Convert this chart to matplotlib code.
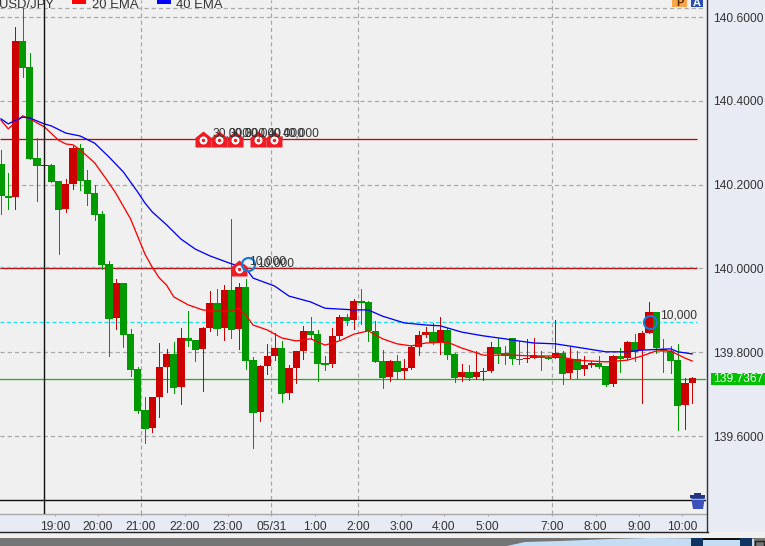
#!/usr/bin/env python3

import matplotlib
matplotlib.use("Agg")
import matplotlib.pyplot as plt
from matplotlib.patches import Rectangle, Polygon

plt.rcParams["font.family"] = ["Liberation Sans", "DejaVu Sans"]

# candles, oldest first
opens = [140.249, 140.174, 140.170, 140.543, 140.481, 140.264, 140.244, 140.247, 140.209, 140.142,
         140.201, 140.287, 140.211, 140.180, 140.130, 140.011, 139.882, 139.965, 139.843, 139.760,
         139.662, 139.619, 139.693, 139.765, 139.796, 139.717, 139.834, 139.829, 139.808, 139.858,
         139.917, 139.858, 139.948, 139.855, 139.956, 139.781, 139.657, 139.767, 139.791, 139.810,
         139.703, 139.762, 139.803, 139.851, 139.843, 139.774, 139.772, 139.839, 139.884, 139.877,
         139.922, 139.920, 139.851, 139.779, 139.741, 139.779, 139.755, 139.762, 139.812, 139.841,
         139.848, 139.822, 139.853, 139.796, 139.741, 139.753, 139.741, 139.753, 139.755, 139.812,
         139.798, 139.834, 139.784, 139.784, 139.786, 139.791, 139.789, 139.786, 139.798, 139.750,
         139.784, 139.760, 139.770, 139.774, 139.767, 139.724, 139.791, 139.786, 139.824, 139.805,
         139.846, 139.896, 139.808, 139.803, 139.781, 139.674, 139.727]
highs = [140.283, 140.228, 140.576, 140.621, 140.514, 140.311, 140.292, 140.249, 140.209, 140.213,
         140.292, 140.297, 140.235, 140.199, 140.137, 140.018, 139.975, 139.965, 139.855, 139.765,
         139.693, 139.693, 139.822, 139.808, 139.824, 139.858, 139.898, 139.829, 139.860, 139.946,
         139.951, 139.960, 140.118, 139.965, 139.975, 139.789, 139.770, 139.820, 139.846, 139.827,
         139.770, 139.803, 139.863, 139.884, 139.853, 139.791, 139.858, 139.889, 139.891, 139.927,
         139.951, 139.922, 139.875, 139.805, 139.781, 139.793, 139.784, 139.817, 139.851, 139.860,
         139.870, 139.884, 139.858, 139.798, 139.772, 139.770, 139.803, 139.762, 139.824, 139.834,
         139.815, 139.834, 139.827, 139.832, 139.834, 139.803, 139.791, 139.877, 139.803, 139.812,
         139.803, 139.791, 139.779, 139.791, 139.767, 139.793, 139.810, 139.827, 139.843, 139.851,
         139.920, 139.896, 139.832, 139.815, 139.820, 139.738, 139.741]
lows = [140.130, 140.142, 140.142, 140.457, 140.261, 140.161, 140.194, 140.206, 140.034, 140.135,
        140.190, 140.187, 140.151, 140.116, 139.999, 139.791, 139.855, 139.812, 139.743, 139.655,
        139.583, 139.610, 139.645, 139.705, 139.703, 139.676, 139.815, 139.779, 139.707, 139.851,
        139.841, 139.829, 139.834, 139.808, 139.760, 139.571, 139.636, 139.748, 139.781, 139.681,
        139.688, 139.727, 139.784, 139.832, 139.731, 139.758, 139.765, 139.832, 139.865, 139.855,
        139.867, 139.827, 139.777, 139.715, 139.731, 139.736, 139.736, 139.760, 139.793, 139.836,
        139.820, 139.796, 139.784, 139.729, 139.731, 139.734, 139.736, 139.734, 139.753, 139.774,
        139.772, 139.772, 139.772, 139.777, 139.786, 139.758, 139.784, 139.786, 139.724, 139.738,
        139.738, 139.746, 139.765, 139.762, 139.719, 139.719, 139.753, 139.784, 139.779, 139.679,
        139.846, 139.798, 139.753, 139.750, 139.614, 139.617, 139.679]
closes = [140.173, 140.168, 140.543, 140.478, 140.261, 140.244, 140.247, 140.206, 140.139, 140.201,
          140.287, 140.209, 140.178, 140.127, 140.008, 139.879, 139.965, 139.841, 139.758, 139.660,
          139.617, 139.693, 139.765, 139.796, 139.715, 139.834, 139.827, 139.805, 139.858, 139.917,
          139.855, 139.948, 139.853, 139.956, 139.779, 139.655, 139.767, 139.791, 139.810, 139.700,
          139.762, 139.803, 139.851, 139.841, 139.772, 139.770, 139.839, 139.884, 139.875, 139.922,
          139.917, 139.851, 139.777, 139.738, 139.779, 139.753, 139.762, 139.812, 139.841, 139.848,
          139.822, 139.853, 139.793, 139.738, 139.753, 139.738, 139.753, 139.755, 139.812, 139.796,
          139.791, 139.784, 139.781, 139.786, 139.793, 139.786, 139.784, 139.798, 139.748, 139.784,
          139.758, 139.770, 139.774, 139.765, 139.722, 139.791, 139.784, 139.824, 139.801, 139.846,
          139.896, 139.810, 139.803, 139.779, 139.672, 139.727, 139.738]

ema20_idx = [0, 1, 3, 4, 6, 8, 9, 10, 11, 13, 15, 16, 18, 20, 21, 22, 23, 24, 26, 28, 30, 32, 33, 34, 35,
             37, 39, 41, 43, 45, 47, 49, 51, 53, 55, 57, 59, 62, 64, 67, 71, 74, 77, 80, 84, 87, 89,
             91, 93, 95, 96]
ema20 = [140.354, 140.333, 140.364, 140.357, 140.338, 140.306, 140.297, 140.295, 140.283, 140.252,
         140.204, 140.178, 140.118, 140.034, 140.003, 139.977, 139.960, 139.932, 139.913, 139.901,
         139.898, 139.898, 139.905, 139.889, 139.865, 139.853, 139.834, 139.827, 139.832, 139.817,
         139.827, 139.843, 139.851, 139.832, 139.820, 139.815, 139.822, 139.824, 139.810, 139.793,
         139.793, 139.791, 139.791, 139.781, 139.777, 139.781, 139.791, 139.803, 139.803, 139.786,
         139.779]
ema40_idx = [0, 1, 3, 4, 6, 7, 9, 11, 13, 15, 17, 19, 20, 21, 23, 25, 27, 29, 32, 34, 35, 38, 40, 43,
             45, 49, 51, 53, 56, 59, 61, 64, 67, 70, 71, 74, 77, 80, 84, 87, 89, 93, 94, 96]
ema40 = [140.357, 140.345, 140.361, 140.359, 140.345, 140.340, 140.323, 140.316, 140.299, 140.266,
         140.230, 140.182, 140.156, 140.135, 140.104, 140.070, 140.046, 140.030, 140.011, 140.001,
         139.977, 139.958, 139.934, 139.920, 139.905, 139.901, 139.901, 139.886, 139.870, 139.865,
         139.863, 139.848, 139.839, 139.832, 139.829, 139.822, 139.820, 139.812, 139.801, 139.801,
         139.805, 139.808, 139.801, 139.796]

hour_idx = [7.5, 13.47, 19.44, 25.56, 31.53, 37.57, 43.6, 49.58, 55.6, 61.5, 67.6, 76.5, 82.6, 88.6, 94.6]
hour_labels = ["19:00", "20:00", "21:00", "22:00", "23:00", "05/31", "1:00", "2:00", "3:00", "4:00",
               "5:00", "7:00", "8:00", "9:00", "10:00"]
grid_idx = [19.44, 37.57, 49.58, 76.5]
price_ticks = [140.6, 140.4, 140.2, 140.0, 139.8, 139.6]
extra_grid = 140.621
last_price = 139.7367
cyan_price = 139.872
order_prices = [140.31, 140.0]
cross_idx = 6.04
cross_price = 139.448

house_idx = [28.06, 30.28, 32.5, 35.7, 37.9, 33.06]
house_price = [140.31, 140.31, 140.31, 140.31, 140.31, 140.002]
ring_idx = [34.3, 90.1]
ring_price = [140.01, 139.872]

UP = "#cc0000"
DOWN = "#009900"
PANEL = "#e8ebf4"
TEXT = "#333333"
PX = 72 / 100

fig = plt.figure(figsize=(7.65, 5.46), dpi=100, facecolor=PANEL)
ax = fig.add_axes([0, 32 / 546, 706 / 765, 514 / 546], facecolor="#f0f0f0")
ax.set_xlim(-0.139, 97.92)
ax.set_ylim(139.4139, 140.6406)

# grid
for p in price_ticks + [extra_grid]:
    ax.axhline(p, color="#a8a8a8", lw=1.2 * PX, ls=(0, (3.5, 2.5)), zorder=1)
for g in grid_idx:
    ax.axvline(g, color="#a8a8a8", lw=1.2 * PX, ls=(0, (3.5, 2.5)), zorder=1)

# candles
idx = list(range(len(opens)))
colors = [UP if c > o else DOWN for o, c in zip(opens, closes)]
ax.vlines(idx, lows, highs, colors=colors, lw=1.0 * PX, zorder=3, antialiased=False)
ax.bar(idx, [c - o for o, c in zip(opens, closes)], bottom=opens, width=0.98, color=colors,
       linewidth=0, zorder=3, antialiased=False)

# emas
ax.plot(ema20_idx, ema20, color="#ff0000", lw=1.3 * PX, zorder=4)
ax.plot(ema40_idx, ema40, color="#0000ff", lw=1.3 * PX, zorder=4)

# order and price lines
ax.hlines(order_prices, -0.139, 96.67, colors="#cc0000", lw=1.3 * PX, zorder=2)
ax.hlines([140.003, cyan_price], -0.139, 96.67, colors="#22e0f0", lw=1.3 * PX,
          linestyles=[(0, (3, 2))], zorder=2)
ax.axhline(last_price, color="#22b014", lw=1.3 * PX, zorder=2)
ax.axhline(cross_price, color="#111111", lw=1.4 * PX, zorder=2)
ax.axvline(cross_idx, color="#111111", lw=1.4 * PX, zorder=5)

# order markers
house = [(-1, -1), (1, -1), (1, 0.2), (0, 1), (-1, 0.2)]
ax.plot(house_idx, house_price, ls="", marker=house, ms=16 * PX, mfc="#ee1c25", mec="none", zorder=6)
ax.plot(house_idx, [p - 0.004 for p in house_price], ls="", marker="o", ms=8 * PX, mfc="white",
        mec="none", zorder=7)
ax.plot(house_idx, [p - 0.004 for p in house_price], ls="", marker="o", ms=3.5 * PX, mfc="#ee1c25",
        mec="none", zorder=8)
ax.plot(ring_idx, ring_price, ls="", marker="o", ms=13 * PX, mfc="none", mec="#1f78d2",
        mew=2.2 * PX, zorder=9)

# axes
for side in ["top", "left", "right"]:
    ax.spines[side].set_visible(False)
ax.spines["bottom"].set_color("#a8a8a8")
ax.spines["bottom"].set_linewidth(1.4 * PX)
ax.set_xticks(hour_idx, hour_labels, fontsize=12 * PX, color=TEXT)
ax.tick_params(axis="x", length=2.5 * PX, width=1 * PX, color="#a8a8a8", pad=3.5)
ax.yaxis.tick_right()
ax.set_yticks(price_ticks, [f"{p:.4f}" for p in price_ticks], fontsize=12 * PX, color=TEXT)
ax.tick_params(axis="y", length=0, pad=5)

# everything outside the price axes, in pixels
ui = fig.add_axes([0, 0, 1, 1], zorder=10)
ui.set_xlim(0, 765)
ui.set_ylim(546, 0)
ui.axis("off")

# legend, cut by the top edge
ui.text(-1, 8, "USD/JPY", fontsize=13 * PX, color=TEXT, va="baseline")
ui.add_patch(Rectangle((72, 0), 14, 3.5, color="#ff0000", lw=0))
ui.text(92, 8, "20 EMA", fontsize=13 * PX, color=TEXT, va="baseline")
ui.add_patch(Rectangle((157, 0), 14, 3.5, color="#0000ff", lw=0))
ui.text(176, 8, "40 EMA", fontsize=13 * PX, color=TEXT, va="baseline")

# icons top right
ui.add_patch(Rectangle((672, 0), 15, 6.5, color="#f9a64a", lw=0))
ui.text(679.5, 5.5, "P", fontsize=11 * PX, color="#5a2a00", fontweight="bold", ha="center", va="baseline")
ui.add_patch(Rectangle((691, 0), 12, 6.5, color="#2a4fb0", lw=0))
ui.text(697, 5.5, "A", fontsize=11 * PX, color="white", fontweight="bold", ha="center", va="baseline")

# order labels
for x, s in zip([213, 229, 245, 268, 283], ["30,000", "30,000", "30,000", "40,000", "40,000"]):
    ui.text(x, 133, s, fontsize=12 * PX, color=TEXT, va="center")
for x, y in zip([249, 257, 660], [262, 263, 316]):
    ui.text(x, y, "10,000", fontsize=12 * PX, color=TEXT, va="center")

# last price box
ui.add_patch(Rectangle((711, 373), 54, 12, color="#00c000", lw=0))
ui.text(713, 379, f"{last_price:.4f}", fontsize=12 * PX, color="white", va="center")

# trash can
ui.add_patch(Polygon([(691, 497), (705, 497), (703, 509), (693, 509)], color="#3b50b8", lw=0))
ui.add_patch(Rectangle((690, 495), 15, 2.5, color="#26367e", lw=0))
ui.add_patch(Rectangle((694, 493), 7, 2, color="#26367e", lw=0))
ui.add_patch(Rectangle((691, 498.5), 14, 1.5, color="#d8b840", lw=0))

# frame and status strip
ui.plot([707.5, 707.5], [0, 531.5], color="#333333", lw=1.4 * PX)
ui.plot([0, 708], [531.5, 531.5], color="#222222", lw=1.4 * PX)
ui.add_patch(Rectangle((0, 532), 765, 6, color="#f0f0f0", lw=0))
ui.add_patch(Rectangle((0, 538), 765, 8, color="#757575", lw=0))
ui.add_patch(Polygon([(507, 546), (525, 542), (560, 541), (610, 539), (650, 538), (754, 539), (754, 546)],
                     color="#c5ddf2", lw=0))
ui.add_patch(Rectangle((691, 538), 12, 8, color="#0f3560", lw=0))
ui.add_patch(Rectangle((703, 538), 37, 2, color="#111111", lw=0))
ui.add_patch(Rectangle((740, 538), 12, 8, color="#0f3560", lw=0))
ui.add_patch(Rectangle((755.5, 540.5), 9, 6, fill=False, ec="#222222", lw=1.4 * PX))

fig.savefig("out.png", dpi=100, facecolor=fig.get_facecolor())
